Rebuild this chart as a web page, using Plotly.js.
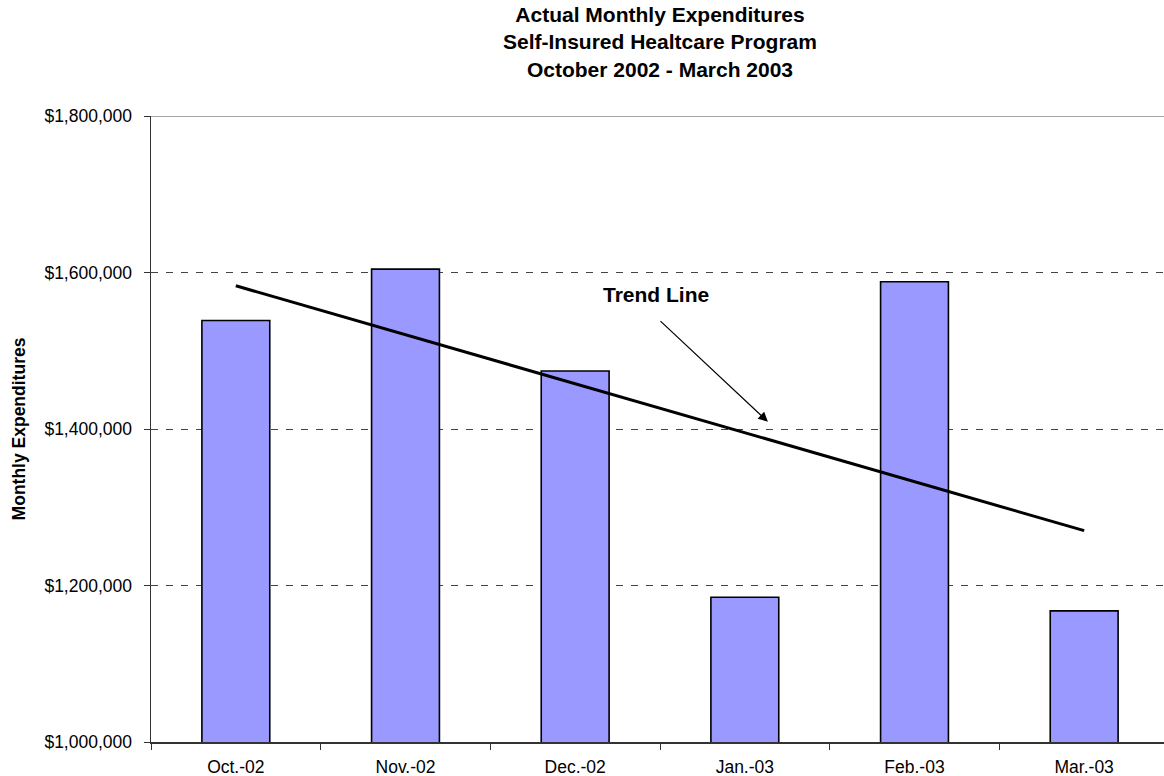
<!DOCTYPE html>
<html>
<head>
<meta charset="utf-8">
<script src="https://cdn.plot.ly/plotly-3.0.1.min.js"></script>
<style>
html, body { margin: 0; padding: 0; overflow: hidden; background: #fff; }
#chart { width: 1170px; height: 776px; }
</style>
</head>
<body>
<div id="chart"></div>
<script>
// Data
const months = ['Oct.-02', 'Nov.-02', 'Dec.-02', 'Jan.-03', 'Feb.-03', 'Mar.-03'];
const expenditures = [1538700, 1604300, 1474100, 1185000, 1588100, 1167600];
const trendMonths = ['Oct.-02', 'Mar.-03'];
const trendValues = [1583000, 1270100];
const yTickVals = [1000000, 1200000, 1400000, 1600000, 1800000];
const yTickText = ['$1,000,000', '$1,200,000', '$1,400,000', '$1,600,000', '$1,800,000'];

const FONT = 'Arial, "Liberation Sans", Helvetica, sans-serif';

const traces = [
  {
    type: 'bar',
    x: months,
    y: expenditures,
    width: 0.4,
    marker: { color: '#9999FF', line: { color: '#000000', width: 1.6 } },
    hoverinfo: 'x+y',
    showlegend: false
  },
  {
    type: 'scatter',
    mode: 'lines',
    x: trendMonths,
    y: trendValues,
    line: { color: '#000000', width: 3 },
    hoverinfo: 'skip',
    showlegend: false
  }
];

const layout = {
  width: 1170,
  height: 776,
  margin: { l: 151, r: 1, t: 116, b: 34 },
  paper_bgcolor: '#ffffff',
  plot_bgcolor: '#ffffff',
  font: { family: FONT, color: '#000000', size: 17.5 },
  title: {
    text: '<b>Actual Monthly Expenditures<br>Self-Insured Healtcare Program<br>October 2002 - March 2003</b>',
    font: { family: FONT, size: 21, color: '#000000' },
    x: 0.5,
    xref: 'paper',
    xanchor: 'center',
    y: 0.9716,
    yref: 'container',
    yanchor: 'middle'
  },
  bargap: 0.6,
  xaxis: {
    type: 'category',
    categoryorder: 'array',
    categoryarray: months,
    range: [-0.5, 5.5],
    showline: true,
    linecolor: '#333333',
    linewidth: 1.5,
    ticks: 'outside',
    tickson: 'boundaries',
    ticklen: 6,
    tickcolor: '#333333',
    showgrid: false,
    zeroline: false,
    ticklabelstandoff: 8,
    tickfont: { family: FONT, size: 17.5, color: '#000000' },
    fixedrange: true
  },
  yaxis: {
    range: [1000000, 1800000],
    tickvals: yTickVals,
    ticktext: yTickText,
    showline: true,
    linecolor: '#333333',
    linewidth: 1.5,
    ticks: 'outside',
    ticklen: 6,
    tickcolor: '#333333',
    showgrid: true,
    gridcolor: '#444444',
    gridwidth: 1,
    griddash: '7px,8px',
    zeroline: false,
    ticklabelstandoff: 8,
    tickfont: { family: FONT, size: 17.5, color: '#000000' },
    title: {
      text: '<b>Monthly Expenditures</b>',
      font: { family: FONT, size: 17.5, color: '#000000' },
      standoff: 14
    },
    fixedrange: true
  },
  shapes: [
    {
      type: 'line', xref: 'paper', yref: 'y',
      x0: 0, x1: 1, y0: 1800000, y1: 1800000,
      line: { color: '#888888', width: 1.5 }
    }
  ],
  annotations: [
    {
      text: '<b>Trend Line</b>',
      x: 2.476, y: 1571500, xref: 'x', yref: 'y',
      showarrow: false,
      font: { family: FONT, size: 21, color: '#000000' }
    },
    {
      text: ' ',
      x: 3.136, y: 1409300, xref: 'x', yref: 'y',
      ax: 2.494, ay: 1539600, axref: 'x', ayref: 'y',
      showarrow: true,
      arrowhead: 2,
      arrowsize: 1.6,
      arrowwidth: 1.2,
      arrowcolor: '#000000',
      standoff: 0,
      startstandoff: 0,
      font: { size: 1 }
    }
  ]
};

Plotly.newPlot('chart', traces, layout, { displayModeBar: false, staticPlot: true });
</script>
</body>
</html>
